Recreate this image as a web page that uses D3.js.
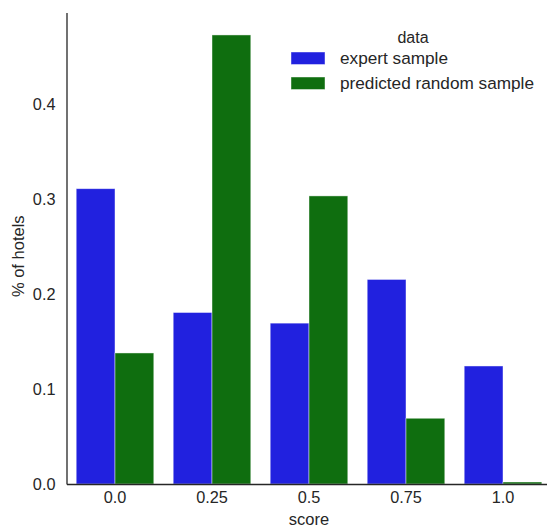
<!DOCTYPE html>
<html>
<head>
<meta charset="utf-8">
<script src="https://cdn.jsdelivr.net/npm/d3@7"></script>
<style>
  html, body { margin: 0; padding: 0; background: #fff; }
  svg { display: block; font-family: "Liberation Sans", Arial, sans-serif; }
</style>
</head>
<body>
<svg id="chart" width="547" height="529"></svg>
<script>
// Score categories (x axis)
const categories = ["0.0", "0.25", "0.5", "0.75", "1.0"];
// Share of hotels per score, one array per sample
const expertSample = [0.3108, 0.1805, 0.1693, 0.2153, 0.1242];
const predictedRandomSample = [0.1379, 0.4726, 0.3032, 0.0692, 0.0021];
const seriesNames = ["expert sample", "predicted random sample"];
const seriesColors = ["#2121df", "#0f6e0f"];
const yTicks = [0.0, 0.1, 0.2, 0.3, 0.4];

const series = [expertSample, predictedRandomSample];
const svg = d3.select("#chart");
const textColor = "#262626";

const plotLeft = 66.5, plotRight = 551.5, plotTop = 12.5, plotBottom = 484;

const yMax = d3.max(series.flat()) * 1.05;
const y = d3.scaleLinear().domain([0, yMax]).range([plotBottom, plotTop]);
const x = d3.scaleBand().domain(categories).range([plotLeft, plotRight]).paddingInner(0).paddingOuter(0);
const inner = d3.scaleBand().domain(d3.range(series.length)).range([0, x.bandwidth() * 0.8]);

// Bars
series.forEach((vals, si) => {
  svg.append("g").selectAll("rect")
    .data(vals)
    .join("rect")
    .attr("x", (d, i) => x(categories[i]) + x.bandwidth() * 0.1 + inner(si))
    .attr("width", inner.bandwidth())
    .attr("y", d => y(d))
    .attr("height", d => plotBottom - y(d))
    .attr("fill", seriesColors[si])
    .attr("stroke", "#ffffff")
    .attr("stroke-opacity", 0.55)
    .attr("stroke-width", 0.8);
});

// Axes
const yAxis = d3.axisLeft(y).tickValues(yTicks).tickFormat(d3.format(".1f")).tickSize(0).tickPadding(11);
const gy = svg.append("g").attr("transform", `translate(${plotLeft},0)`).call(yAxis);
gy.select(".domain").attr("stroke", textColor).attr("stroke-width", 1.3);
gy.selectAll("text").attr("font-size", 16.3).attr("fill", textColor).attr("font-family", "Liberation Sans, Arial, sans-serif");

const xAxis = d3.axisBottom(x).tickSize(0).tickPadding(7);
const gx = svg.append("g").attr("transform", `translate(0,${plotBottom})`).call(xAxis);
gx.select(".domain").attr("stroke", textColor).attr("stroke-width", 1.3);
gx.selectAll("text").attr("font-size", 16.3).attr("fill", textColor).attr("font-family", "Liberation Sans, Arial, sans-serif");

// Axis titles
svg.append("text")
  .attr("x", 309)
  .attr("y", 525)
  .attr("text-anchor", "middle")
  .attr("font-size", 16.5)
  .attr("fill", textColor)
  .text("score");

svg.append("text")
  .attr("transform", `translate(24,${(plotTop + plotBottom) / 2 + 8}) rotate(-90)`)
  .attr("text-anchor", "middle")
  .attr("font-size", 16.5)
  .attr("fill", textColor)
  .text("% of hotels");

// Legend
const legend = svg.append("g").attr("transform", "translate(291,0)");
legend.append("text")
  .attr("x", 122).attr("y", 43)
  .attr("text-anchor", "middle")
  .attr("font-size", 16)
  .attr("fill", textColor)
  .text("data");
seriesNames.forEach((name, i) => {
  const g = legend.append("g").attr("transform", `translate(0,${52 + i * 25})`);
  g.append("rect").attr("width", 34).attr("height", 12.5)
    .attr("fill", seriesColors[i]).attr("stroke", "#ffffff").attr("stroke-opacity", 0.55).attr("stroke-width", 0.8);
  g.append("text").attr("x", 49).attr("y", 12)
    .attr("font-size", 17.2)
    .attr("fill", textColor)
    .text(name);
});
</script>
</body>
</html>
